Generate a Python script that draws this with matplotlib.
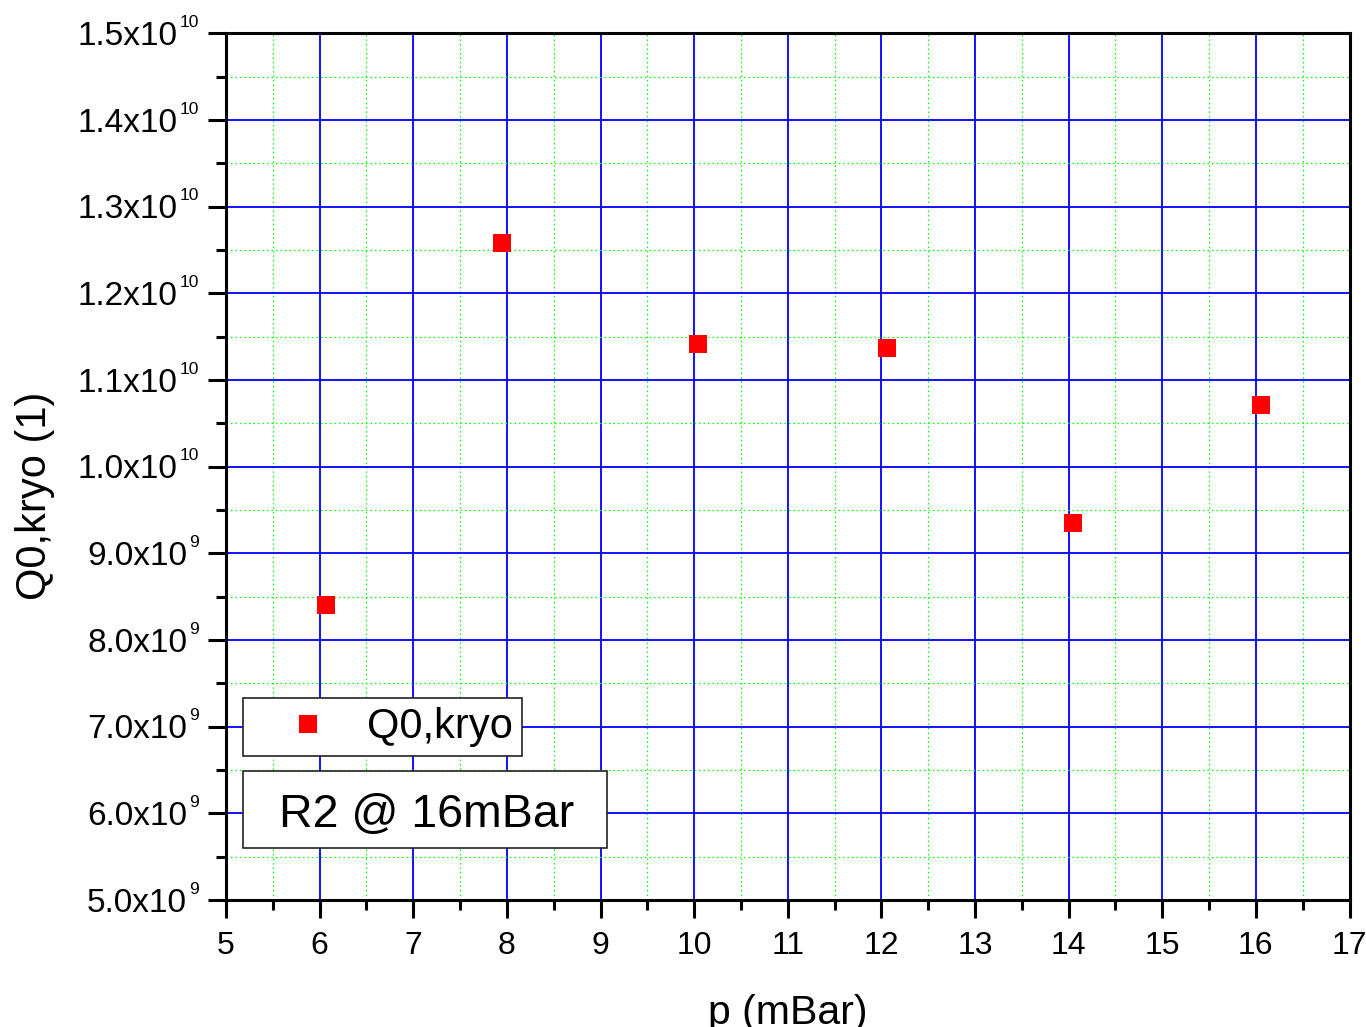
import matplotlib
matplotlib.use("Agg")
import matplotlib.pyplot as plt
from matplotlib.ticker import MultipleLocator, NullFormatter
from matplotlib.patches import Rectangle
import numpy as np

plt.rcParams['font.family'] = ['Liberation Sans', 'DejaVu Sans']

# measurement data
pressure_mbar = [6.07, 7.95, 10.04, 12.06, 14.05, 16.05]
q0_kryo = [8.40e9, 1.258e10, 1.142e10, 1.137e10, 9.35e9, 1.071e10]
series_label = "Q0,kryo"
note_text = "R2 @ 16mBar"
x_label = "p (mBar)"
y_label = "Q0,kryo (1)"

W, H, DPI = 1366, 1027, 100
fig = plt.figure(figsize=(W / DPI, H / DPI), dpi=DPI)
ax = fig.add_axes([226 / W, 1 - 900 / H, 1123.5 / W, 866.7 / H])

ax.plot(pressure_mbar, q0_kryo, linestyle='none', marker='s', markersize=13.4,
        color='#ff0000', markeredgewidth=0, label=series_label, zorder=5)

ax.set_xlim(5, 17)
ax.set_ylim(5e9, 1.5e10)
ax.xaxis.set_major_locator(MultipleLocator(1))
ax.xaxis.set_minor_locator(MultipleLocator(0.5))
ax.yaxis.set_major_locator(MultipleLocator(1e9))
ax.yaxis.set_minor_locator(MultipleLocator(5e8))

# grids: blue major, green dotted minor
ax.set_axisbelow(True)
ax.grid(which='major', color='#0000ff', linewidth=1.3, linestyle='-')
ax.grid(which='minor', color='#00ff00', linewidth=0.9, linestyle=(0, (1.2, 2.4)))

for s in ax.spines.values():
    s.set_linewidth(2.2)
    s.set_color('black')
    s.set_zorder(6)

ax.tick_params(which='major', direction='out', length=13, width=2.2,
               top=False, right=False, labelsize=23, pad=9)
ax.tick_params(which='minor', direction='out', length=7, width=2.2,
               top=False, right=False)
ax.xaxis.set_major_formatter(plt.FuncFormatter(lambda v, p: f"{v:.0f}"))
ax.yaxis.set_major_formatter(NullFormatter())

# y tick labels in the form m.m x 10^e
ytrans = ax.get_yaxis_transform()
for v in ax.get_yticks():
    if v < 5e9 - 1 or v > 1.5e10 + 1:
        continue
    e = int(np.floor(np.log10(v) + 1e-9))
    m = v / 10 ** e
    sup = ax.annotate(f"{e}", xy=(0, v), xycoords=ytrans,
                      xytext=(-27 * 0.72, 4.6), textcoords='offset points',
                      ha='right', va='baseline', fontsize=12.5, annotation_clip=False)
    ax.annotate(f"{m:.1f}x10", xy=(0, v), xycoords=(sup, ytrans),
                xytext=(-1.5, -8.4), textcoords='offset points',
                ha='right', va='baseline', fontsize=24, annotation_clip=False)

ax.set_xlabel(x_label, fontsize=29.5, va='baseline')
ax.xaxis.set_label_coords(0.5, -(1024 - 900) / 866.7)
fig.text(35 / W, 1 - 496 / H, y_label, rotation=90, ha='center', va='center',
         fontsize=30)

# legend
leg = ax.legend(loc='upper left', bbox_to_anchor=(243 / W, 1 - 698 / H),
                bbox_transform=fig.transFigure, borderaxespad=0,
                fontsize=30, numpoints=1, handlelength=2.7, handletextpad=0.05,
                borderpad=0.22, fancybox=False, framealpha=1,
                edgecolor='#222222', markerscale=1.0)
leg.get_frame().set_linewidth(1.2)
leg.set_zorder(10)

# annotation box
fig.patches.append(Rectangle((243 / W, 1 - 848 / H), 364 / W, 77 / H,
                             transform=fig.transFigure, facecolor='white',
                             edgecolor='#222222', linewidth=1.2, zorder=10))
fig.text(427 / W, 1 - 810 / H, note_text, ha='center', va='center_baseline',
         fontsize=33.5, zorder=11)

fig.savefig("out.png", dpi=DPI)
